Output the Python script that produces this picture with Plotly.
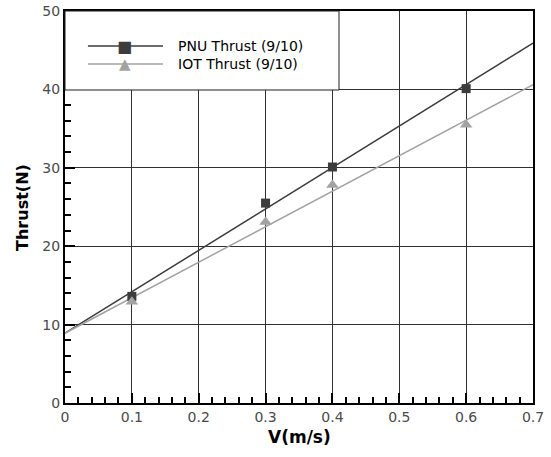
import plotly.graph_objects as go

# Measured thrust at each towing speed
speed = [0.1, 0.3, 0.4, 0.6]
pnu_thrust = [13.6, 25.5, 30.1, 40.1]
iot_thrust = [12.9, 23.1, 27.8, 35.5]

# Linear trend lines, evaluated at the ends of the speed range
fit_speed = [0.0, 0.7]
pnu_fit = [8.9, 45.9]
iot_fit = [8.9, 40.6]

x_ticks = [0, 0.1, 0.2, 0.3, 0.4, 0.5, 0.6, 0.7]
y_ticks = [0, 10, 20, 30, 40, 50]

PNU_COLOR = "#3c3c3c"
IOT_COLOR = "#a3a3a3"
FONT = "DejaVu Sans, Arial, sans-serif"

fig = go.Figure()

fig.add_trace(go.Scatter(x=fit_speed, y=pnu_fit, mode="lines",
                         line=dict(color=PNU_COLOR, width=1.5),
                         showlegend=False, hoverinfo="skip"))
fig.add_trace(go.Scatter(x=fit_speed, y=iot_fit, mode="lines",
                         line=dict(color=IOT_COLOR, width=1.5),
                         showlegend=False, hoverinfo="skip"))
fig.add_trace(go.Scatter(x=speed, y=pnu_thrust, mode="markers",
                         marker=dict(symbol="square", size=9, color=PNU_COLOR),
                         name="PNU Thrust (9/10)", showlegend=False))
fig.add_trace(go.Scatter(x=speed, y=iot_thrust, mode="markers",
                         marker=dict(symbol="triangle-up", size=11, color=IOT_COLOR),
                         name="IOT Thrust (9/10)", showlegend=False))

axis_common = dict(
    showline=True, linecolor="black", linewidth=2, mirror=True,
    showgrid=True, gridcolor="#303030", gridwidth=1,
    ticks="inside", ticklen=10, tickwidth=2, tickcolor="black",
    tickfont=dict(family=FONT, size=14, color="#4a4a4a"),
    zeroline=False, automargin=False,
)

fig.update_xaxes(range=[0, 0.7], tickvals=x_ticks,
                 ticktext=[f"{v:g}" for v in x_ticks],
                 minor=dict(ticks="inside", ticklen=6, tickwidth=1.5,
                            tickcolor="black", dtick=0.02, tick0=0, showgrid=False),
                 **axis_common)
fig.update_yaxes(range=[0, 50], tickvals=y_ticks,
                 minor=dict(ticks="inside", ticklen=6, tickwidth=1.5,
                            tickcolor="black", dtick=2, tick0=0, showgrid=False),
                 **axis_common)

# Legend panel in the upper-left corner of the plot
shapes = [
    dict(type="rect", xref="paper", yref="paper", x0=0.0, x1=0.5855,
         y0=0.7985, y1=1.0, fillcolor="white",
         line=dict(color="#202020", width=1), layer="above"),
]
annotations = [
    # axis titles
    dict(xref="paper", yref="paper", x=0.5, y=-0.088, text="<b>V(m/s)</b>",
         showarrow=False, xanchor="center", yanchor="middle",
         font=dict(family=FONT, size=17, color="black")),
    dict(xref="paper", yref="paper", x=-0.092, y=0.5, text="<b>Thrust(N)</b>",
         showarrow=False, xanchor="center", yanchor="middle", textangle=-90,
         font=dict(family=FONT, size=16, color="black")),
]
legend_rows = [
    ("PNU Thrust (9/10)", PNU_COLOR, "■", 0.9107, 16),
    ("IOT Thrust (9/10)", IOT_COLOR, "▲", 0.8648, 15),
]
for label, color, glyph, ypos, gsize in legend_rows:
    shapes.append(dict(type="line", xref="paper", yref="paper",
                       x0=0.049, x1=0.2094, y0=ypos, y1=ypos,
                       line=dict(color=color, width=1.5), layer="above"))
    annotations.append(dict(xref="paper", yref="paper", x=0.128, y=ypos,
                            text=glyph, showarrow=False,
                            xanchor="center", yanchor="middle",
                            font=dict(family="DejaVu Sans", size=gsize, color=color)))
    annotations.append(dict(xref="paper", yref="paper", x=0.237, y=ypos,
                            text=label, showarrow=False,
                            xanchor="left", yanchor="middle",
                            font=dict(family=FONT, size=14, color="black")))

fig.update_layout(
    template="none",
    width=551, height=457,
    margin=dict(l=65, r=18, t=11, b=54),
    paper_bgcolor="white", plot_bgcolor="white",
    shapes=shapes, annotations=annotations,
    showlegend=False,
)

fig.write_html("out.html")
